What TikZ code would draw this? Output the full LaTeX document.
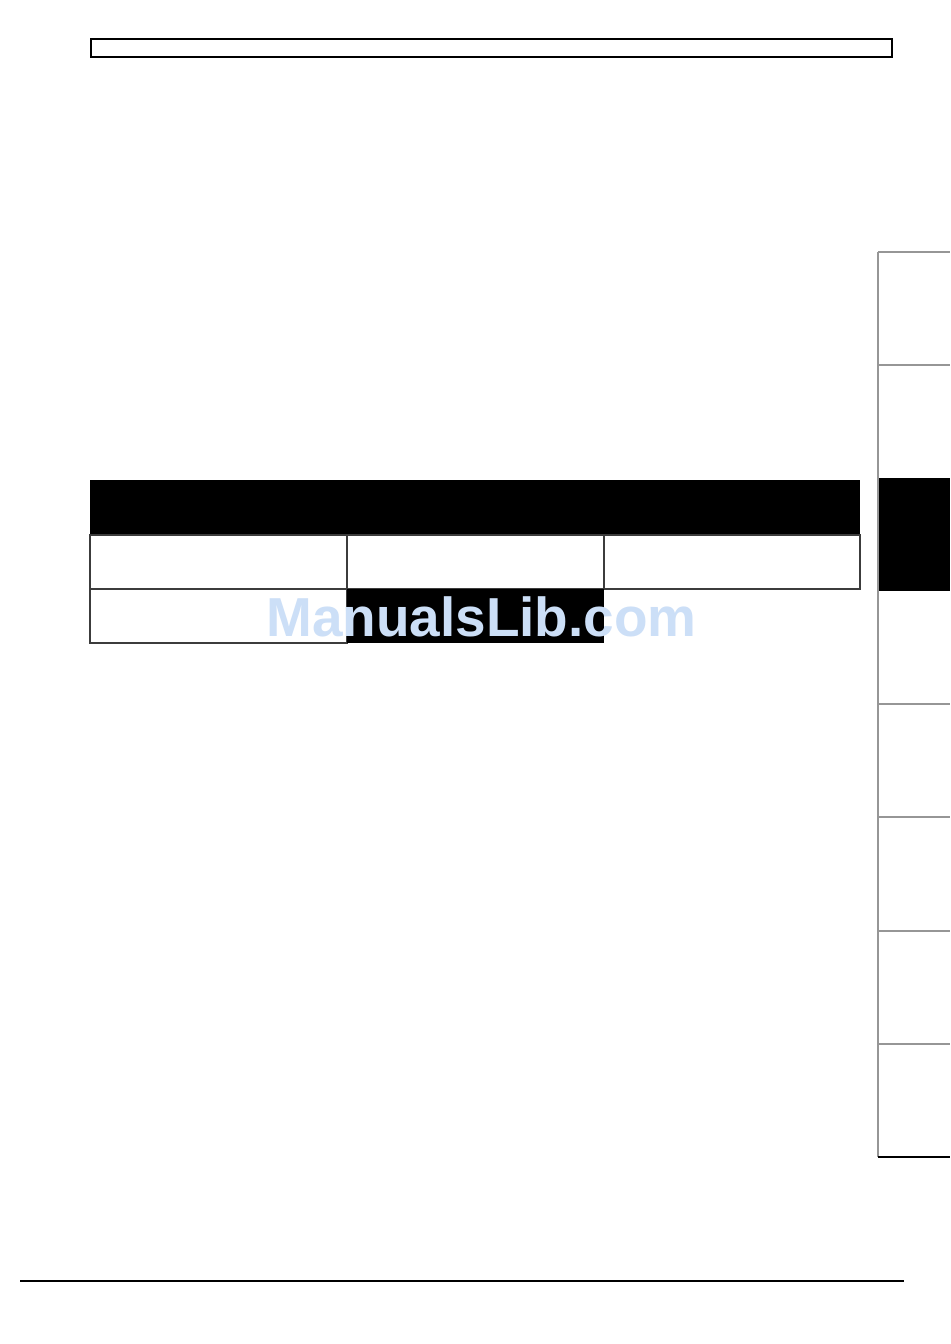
\documentclass[tikz,border=0pt]{standalone}
\usepackage{fontspec}
\newfontfamily\wmfont{Liberation Sans}
\definecolor{wmblue}{RGB}{204,223,247}
\definecolor{tabgray}{RGB}{150,150,150}
\definecolor{cellgray}{RGB}{60,60,60}
\tikzset{
  framebox/.style={draw=black,line width=1.5pt},
  cellbox/.style={draw=cellgray,line width=0.9pt},
  blackfill/.style={fill=black},
  tabline/.style={draw=tabgray,line width=1.1pt},
  rule/.style={draw=black,line width=1.6pt},
  watermark/.style={text=wmblue,font=\wmfont\bfseries\fontsize{41.2pt}{41.2pt}\selectfont,inner sep=0pt,anchor=base}
}
\begin{document}
\begin{tikzpicture}[x=0.75pt,y=-0.75pt]
\useasboundingbox (0,0) rectangle (950,1344);
\fill[white] (0,0) rectangle (950,1344);
% top frame
\draw[framebox] (91,39) rectangle (892,57);
% table header
\fill[blackfill] (90,480) rectangle (860,535);
% row 1
\draw[cellbox] (90,535) rectangle (347,589);
\draw[cellbox] (347,535) rectangle (604,589);
\draw[cellbox] (604,535) rectangle (860,589);
% row 2
\draw[cellbox] (90,589) rectangle (347,643);
\fill[blackfill] (347,589) rectangle (604,643);
% side tabs
\fill[blackfill] (878,478) rectangle (950,591);
\foreach \yy in {252,365,704,817,931,1044}{
  \draw[tabline] (878,\yy) -- (950,\yy);
}
\draw[tabline,line width=1.5pt] (878,252) -- (878,1157);
\draw[black,line width=1.1pt] (878,1157) -- (950,1157);
% bottom rule
\draw[rule] (20,1281) -- (904,1281);
% watermark
\node[watermark] (wm) at (481.5,636) {ManualsLib.com};
\end{tikzpicture}
\end{document}
